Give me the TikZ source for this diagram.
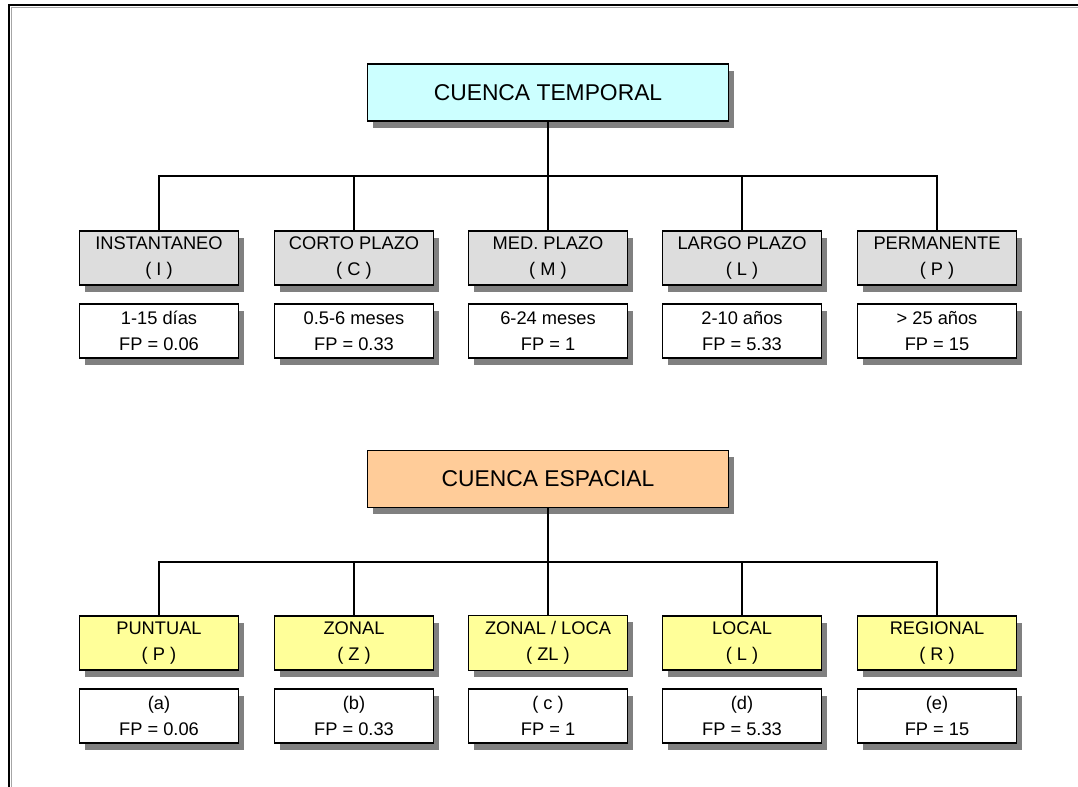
\documentclass[tikz,border=0pt]{standalone}
\usepackage{fontspec}
\setmainfont{Liberation Sans}
\usetikzlibrary{positioning,shadows}
\definecolor{hdrcyan}{HTML}{CCFFFF}
\definecolor{hdrpeach}{HTML}{FFCC99}
\definecolor{catgray}{HTML}{DDDDDD}
\definecolor{catyellow}{HTML}{FFFF99}
\tikzset{
  boxshadow/.style={drop shadow={shadow xshift=3.2pt, shadow yshift=-3.8pt, fill=black!50, opacity=1}},
  header/.style={draw, line width=0.8pt, boxshadow, minimum width=7.22cm, minimum height=1.14cm, font=\fontsize{13}{15}\selectfont},
  headtemp/.style={header, fill=hdrcyan},
  headesp/.style={header, fill=hdrpeach},
  catbox/.style={draw, line width=0.8pt, boxshadow, minimum width=3.18cm, minimum height=1.08cm, align=center, font=\fontsize{10.4}{14.8}\selectfont},
  catgraybox/.style={catbox, fill=catgray},
  catyelbox/.style={catbox, fill=catyellow},
  valbox/.style={catbox, fill=white},
  comb/.style={line width=1pt}
}

\begin{document}
\begin{tikzpicture}[x=0.02cm, y=-0.02cm]
  \useasboundingbox (0,0) rectangle (1078,787);
  % frame
  \draw[black!35, line width=0.5pt] (11.5,787) -- (11.5,7.5) -- (1078,7.5);
  \draw[line width=1.3pt] (9,787) -- (9,5) -- (1078,5);

  % cuenca temporal
  \node[headtemp] (tmp) at (548,92.5) {CUENCA TEMPORAL};
  \coordinate (tmpbus) at (548,176);
  \node[catgraybox] (ti) at (159,258) {INSTANTANEO\\( I )};
  \node[catgraybox] (tc) at (354,258) {CORTO PLAZO\\( C )};
  \node[catgraybox] (tm) at (548,258) {MED. PLAZO\\( M )};
  \node[catgraybox] (tl) at (742,258) {LARGO PLAZO\\( L )};
  \node[catgraybox] (tp) at (937,258) {PERMANENTE\\( P )};
  \node[valbox] (vi) at (159,331) {1-15 días\\FP = 0.06};
  \node[valbox] (vc) at (354,331) {0.5-6 meses\\FP = 0.33};
  \node[valbox] (vm) at (548,331) {6-24 meses\\FP = 1};
  \node[valbox] (vl) at (742,331) {2-10 años\\FP = 5.33};
  \node[valbox] (vp) at (937,331) {> 25 años\\FP = 15};
  \draw[comb] (tmp) -- (tmpbus);
  \draw[comb] (tmpbus) -| (ti);
  \draw[comb] (tmpbus) -| (tc);
  \draw[comb] (tmpbus) -- (tm);
  \draw[comb] (tmpbus) -| (tl);
  \draw[comb] (tmpbus) -| (tp);

  % cuenca espacial
  \node[headesp] (esp) at (548,479) {CUENCA ESPACIAL};
  \coordinate (espbus) at (548,562);
  \node[catyelbox] (ep) at (159,643) {PUNTUAL\\( P )};
  \node[catyelbox] (ez) at (354,643) {ZONAL\\( Z )};
  \node[catyelbox] (ezl) at (548,643) {ZONAL / LOCA\\( ZL )};
  \node[catyelbox] (el) at (742,643) {LOCAL\\( L )};
  \node[catyelbox] (er) at (937,643) {REGIONAL\\( R )};
  \node[valbox] (wp) at (159,716) {(a)\\FP = 0.06};
  \node[valbox] (wz) at (354,716) {(b)\\FP = 0.33};
  \node[valbox] (wzl) at (548,716) {( c )\\FP = 1};
  \node[valbox] (wl) at (742,716) {(d)\\FP = 5.33};
  \node[valbox] (wr) at (937,716) {(e)\\FP = 15};
  \draw[comb] (esp) -- (espbus);
  \draw[comb] (espbus) -| (ep);
  \draw[comb] (espbus) -| (ez);
  \draw[comb] (espbus) -- (ezl);
  \draw[comb] (espbus) -| (el);
  \draw[comb] (espbus) -| (er);
\end{tikzpicture}
\end{document}
